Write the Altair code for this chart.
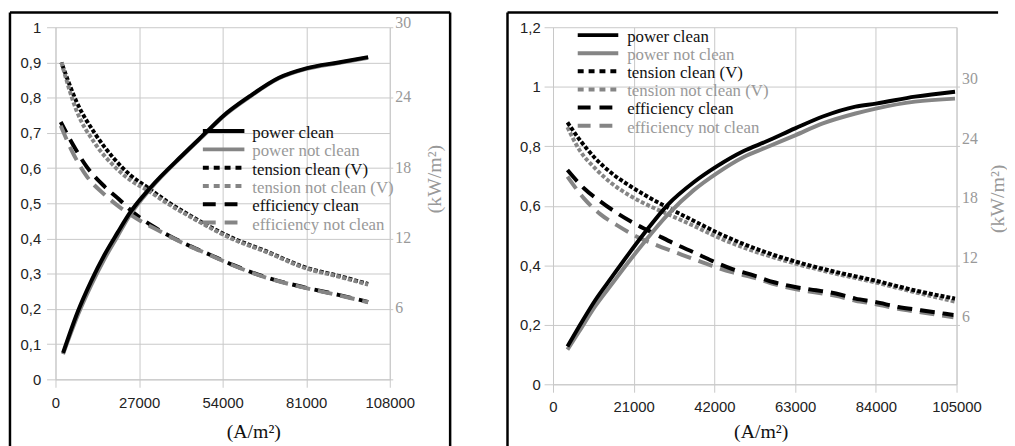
import altair as alt
import pandas as pd

# ---------------- Left panel data ----------------
L_X_TICKS = [0, 27000, 54000, 81000, 108000]
L_YL_TICKS = [0, 0.1, 0.2, 0.3, 0.4, 0.5, 0.6, 0.7, 0.8, 0.9, 1.0]
L_YR_TICKS = [0, 6, 12, 18, 24, 30]

L_P_X = [2450, 7260, 11500, 15800, 20060, 23800, 30700, 41400, 48900, 54000, 62630, 72200, 81000, 91400, 101000]
L_PC_Y = [2.25, 5.8, 8.35, 10.6, 12.5, 14.1, 16.35, 19.2, 21.1, 22.4, 24.1, 25.7, 26.5, 27.0, 27.45]
L_PN_Y = [2.15, 5.5, 8.0, 10.25, 12.2, 13.9, 16.25, 19.15, 21.05, 22.35, 24.05, 25.65, 26.45, 26.95, 27.4]

L_T_X = [1920, 6720, 12600, 19000, 24300, 29700, 36100, 43500, 57300, 68000, 81000, 91400, 101000]
L_TC_Y = [0.90, 0.79, 0.70, 0.626, 0.579, 0.545, 0.505, 0.465, 0.401, 0.364, 0.317, 0.294, 0.271]
L_TN_Y = [0.90, 0.765, 0.672, 0.605, 0.565, 0.537, 0.50, 0.462, 0.398, 0.362, 0.315, 0.292, 0.269]

L_E_X = [1700, 5120, 10000, 15800, 20600, 24300, 33900, 41400, 49900, 57300, 68000, 81000, 91400, 101000]
L_EC_Y = [0.731, 0.675, 0.605, 0.548, 0.511, 0.48, 0.422, 0.387, 0.354, 0.325, 0.29, 0.26, 0.24, 0.22]
L_EN_Y = [0.72, 0.652, 0.578, 0.525, 0.49, 0.467, 0.42, 0.386, 0.353, 0.324, 0.289, 0.259, 0.239, 0.219]

# ---------------- Right panel data ----------------
R_X_TICKS = [0, 21000, 42000, 63000, 84000, 105000]
R_YL_TICKS = [0, 0.2, 0.4, 0.6, 0.8, 1.0, 1.2]
R_YR_TICKS = [6, 12, 18, 24, 30]

R_P_X = [3760, 6760, 11030, 15300, 19600, 23900, 29850, 36700, 42700, 49500, 55600, 63000, 70200, 78700, 84000, 94200, 104600]
R_PC_Y = [3.8, 5.8, 8.5, 10.8, 13.1, 15.3, 18.1, 20.4, 22.0, 23.5, 24.5, 25.8, 27.0, 28.0, 28.3, 29.0, 29.5]
R_PN_Y = [3.5, 5.3, 7.9, 10.1, 12.3, 14.4, 17.1, 19.6, 21.3, 22.9, 23.9, 25.1, 26.3, 27.3, 27.8, 28.5, 28.8]

R_T_X = [3760, 6760, 11030, 15300, 19600, 23900, 29850, 36700, 42700, 49500, 55780, 63000, 72800, 84000, 94000, 104600]
R_TC_Y = [0.88, 0.825, 0.759, 0.709, 0.670, 0.636, 0.594, 0.549, 0.51, 0.472, 0.442, 0.413, 0.38, 0.348, 0.316, 0.288]
R_TN_Y = [0.864, 0.79, 0.725, 0.675, 0.637, 0.607, 0.572, 0.532, 0.495, 0.46, 0.433, 0.406, 0.374, 0.342, 0.31, 0.278]

R_E_X = [3760, 8040, 12300, 16600, 21700, 26900, 32000, 36700, 41400, 46500, 52400, 57500, 63000, 68500, 73600, 78700, 83800, 89800, 95700, 104200]
R_EC_Y = [0.72, 0.659, 0.615, 0.576, 0.537, 0.503, 0.47, 0.443, 0.415, 0.388, 0.365, 0.343, 0.327, 0.316, 0.305, 0.288, 0.277, 0.26, 0.249, 0.233]
R_EN_Y = [0.698, 0.625, 0.572, 0.535, 0.497, 0.468, 0.443, 0.42, 0.398, 0.377, 0.358, 0.337, 0.32, 0.308, 0.297, 0.281, 0.27, 0.254, 0.242, 0.225]

LEGEND_LABELS = ["power clean", "power not clean", "tension clean (V)",
                 "tension not clean (V)", "efficiency clean", "efficiency not clean"]

SERIF = "Liberation Serif"
SANS = "Liberation Sans"
BLACK = "#000000"
GRAY = "#858585"
TEXT_GRAY = "#999999"
GRID = "#c8c8c8"

LINE_DOT = [4, 2]
LINE_DASH = [15, 8]
LEG_DOT = [6, 5]
LEG_DASH = [13, 9]


def build_panel(cfg):
    W, H = cfg["w"], cfg["h"]
    xdef = dict(
        scale=alt.Scale(domain=[0, cfg["xmax"]], nice=False),
        axis=alt.Axis(values=cfg["xticks"], format="d", labelFont=SANS, labelFontSize=15,
                      labelColor="#222222", tickSize=8, tickColor=GRID, domainColor=GRID,
                      gridColor=GRID, grid=True, labelPadding=8, labelFlush=False,
                      title="(A/m²)", titleFont=SERIF, titleFontSize=20, titleFontWeight="normal",
                      titleColor="#111111", titleX=cfg["xtitle_x"], titleY=cfg["xtitle_y"],
                      titleAlign="center", titleBaseline="middle"),
    )
    yl = dict(
        scale=alt.Scale(domain=[0, cfg["ylmax"]], nice=False),
        axis=alt.Axis(values=cfg["ylticks"], labelExpr="replace(format(datum.value, '~g'), '.', ',')",
                      labelFont=SANS, labelFontSize=15, labelColor="#222222", tickSize=9,
                      tickColor=GRID, domainColor=GRID, gridColor=GRID, grid=True,
                      labelPadding=cfg["yl_pad"], labelFlush=False, title=None),
    )
    yr = dict(
        scale=alt.Scale(domain=[0, cfg["yrmax"]], nice=False),
        axis=alt.Axis(orient="right", values=cfg["yrticks"],
                      labelExpr="datum.value == 0 ? '' : datum.label",
                      labelFont=SERIF, labelFontSize=16, labelColor=TEXT_GRAY, tickSize=3,
                      tickColor=GRID, domainColor=GRID, grid=False, labelPadding=2,
                      labelOffset={"condition": {"test": "datum.value == 30",
                                                 "value": cfg["yr_top_off"]},
                                   "value": cfg["yr_off"]},
                      labelFlush=False,
                      title="(kW/m²)", titleFont=SERIF, titleFontSize=20, titleFontWeight="normal",
                      titleColor=TEXT_GRAY, titleAngle=270, titleX=cfg["ytitle_x"],
                      titleY=cfg["ytitle_y"], titleAlign="center", titleBaseline="middle"),
    )

    def line(xs, ys, color, dash, ydef, offset=0):
        df = pd.DataFrame({"x": xs, "y": ys})
        kw = dict(color=color, strokeWidth=4, interpolate="monotone")
        if dash:
            kw["strokeDash"] = dash
            if offset:
                kw["strokeDashOffset"] = offset
        return alt.Chart(df).mark_line(**kw).encode(
            x=alt.X("x:Q", **xdef), y=alt.Y("y:Q", **ydef))

    tc = line(cfg["tx"], cfg["tc"], BLACK, LINE_DOT, yl, cfg["dot_off"])
    tn = line(cfg["tx"], cfg["tn"], GRAY, LINE_DOT, yl)
    ec = line(cfg["ex"], cfg["ec"], BLACK, LINE_DASH, yl, cfg["dash_off"])
    en = line(cfg["ex"], cfg["en"], GRAY, LINE_DASH, yl)
    if cfg["gray_on_top"]:
        left = alt.layer(tc, tn, ec, en)
    else:
        left = alt.layer(tn, tc, en, ec)
    right = alt.layer(
        line(cfg["px"], cfg["pn"], GRAY, None, yr),
        line(cfg["px"], cfg["pc"], BLACK, None, yr),
    )

    one = pd.DataFrame({"k": [0]})
    deco = []
    # panel frame (top, left, right edges)
    b = cfg["box"]
    deco.append(alt.Chart(one).mark_rule(color=BLACK, strokeWidth=2.5).encode(
        x=alt.value(b[0]), x2=alt.value(b[1]), y=alt.value(b[2])))
    deco.append(alt.Chart(one).mark_rule(color=BLACK, strokeWidth=2.5).encode(
        x=alt.value(b[0]), y=alt.value(b[2]), y2=alt.value(b[3])))
    if cfg["box_right"]:
        deco.append(alt.Chart(one).mark_rule(color=BLACK, strokeWidth=2.5).encode(
            x=alt.value(b[1]), y=alt.value(b[2]), y2=alt.value(b[3])))

    # legend
    styles = [(BLACK, None), (GRAY, None), (BLACK, LEG_DOT), (GRAY, LEG_DOT),
              (BLACK, LEG_DASH), (GRAY, LEG_DASH)]
    lg = cfg["legend"]
    for i, (lab, (col, dash)) in enumerate(zip(LEGEND_LABELS, styles)):
        ty = lg["y0"] + lg["dy"] * i
        kw = dict(color=col, strokeWidth=4)
        if dash:
            kw["strokeDash"] = dash
        deco.append(alt.Chart(one).mark_rule(**kw).encode(
            x=alt.value(lg["sx0"]), x2=alt.value(lg["sx1"]), y=alt.value(ty - 2)))
        deco.append(alt.Chart(one).mark_text(
            text=lab, font=SERIF, fontSize=17, align="left", baseline="middle",
            color="#111111" if col == BLACK else TEXT_GRAY).encode(
            x=alt.value(lg["tx"]), y=alt.value(ty)))

    return alt.layer(left, right, *deco).resolve_scale(y="independent").properties(
        width=W, height=H)


left_cfg = dict(
    w=338, h=356, xmax=108000, xticks=L_X_TICKS, ylmax=1.0, ylticks=L_YL_TICKS,
    yrmax=30, yrticks=L_YR_TICKS, yl_pad=6, yr_off=-1, yr_top_off=-5,
    xtitle_x=200, xtitle_y=53, ytitle_x=45, ytitle_y=153,
    px=L_P_X, pc=L_PC_Y, pn=L_PN_Y, tx=L_T_X, tc=L_TC_Y, tn=L_TN_Y,
    ex=L_E_X, ec=L_EC_Y, en=L_EN_Y, gray_on_top=True, dot_off=3, dash_off=3,
    box=[-46, 399, -15, 425], box_right=True,
    legend=dict(sx0=149, sx1=191, tx=199, y0=107, dy=18.5),
)
right_cfg = dict(
    w=408, h=361, xmax=105000, xticks=R_X_TICKS, ylmax=1.2, ylticks=R_YL_TICKS,
    yrmax=36, yrticks=R_YR_TICKS, yl_pad=4, yr_off=-8, yr_top_off=-8,
    xtitle_x=210, xtitle_y=48, ytitle_x=41, ytitle_y=173,
    px=R_P_X, pc=R_PC_Y, pn=R_PN_Y, tx=R_T_X, tc=R_TC_Y, tn=R_TN_Y,
    ex=R_E_X, ec=R_EC_Y, en=R_EN_Y, gray_on_top=False, dot_off=0, dash_off=0,
    box=[-46, 450, -15, 425], box_right=False,
    legend=dict(sx0=25, sx1=66, tx=75, y0=10, dy=18.3),
)

chart = alt.hconcat(build_panel(left_cfg), build_panel(right_cfg),
                    spacing=165, bounds="flush").properties(
    padding={"left": 0, "top": 0, "right": 0, "bottom": 0},
    background="white",
).configure_view(stroke=None)

chart.save("out.html", embed_options={"renderer": "svg", "actions": False})
